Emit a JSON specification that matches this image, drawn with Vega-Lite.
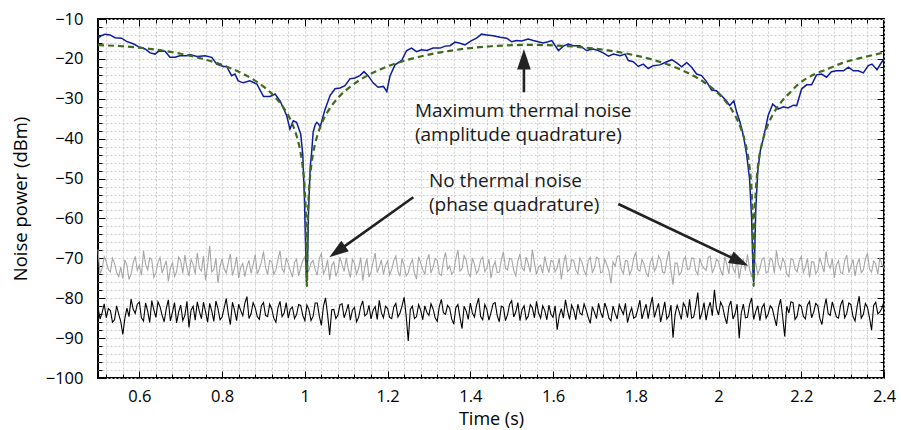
{
  "$schema": "https://vega.github.io/schema/vega-lite/v6.json",
  "width": 786,
  "height": 359,
  "autosize": {"type": "none"},
  "padding": {"left": 98, "top": 19, "right": 17, "bottom": 52},
  "background": "white",
  "config": {
    "view": {"stroke": "#000", "strokeWidth": 2},
    "font": "Open Sans",
    "axis": {
      "domain": false,
      "labelFont": "Open Sans",
      "titleFont": "Open Sans",
      "labelFontSize": 16.5,
      "titleFontSize": 18.5,
      "titleFontWeight": "normal",
      "labelColor": "#000",
      "titleColor": "#000",
      "tickColor": "#000",
      "labelOverlap": false,
      "labelFlush": false
    }
  },
  "datasets": {
    "gray": [
      {"t":0.50,"p":-67.8},{"t":0.51,"p":-72.5},{"t":0.52,"p":-70.9},{"t":0.53,"p":-73.4},{"t":0.54,"p":-71.2},{"t":0.55,"p":-74.6},{"t":0.56,"p":-75.1},{"t":0.57,"p":-71.8},{"t":0.58,"p":-73.9},{"t":0.59,"p":-69.5},
      {"t":0.60,"p":-71.7},{"t":0.61,"p":-68.2},{"t":0.62,"p":-72.9},{"t":0.63,"p":-70.4},{"t":0.64,"p":-73.6},{"t":0.65,"p":-69.8},{"t":0.66,"p":-72.2},{"t":0.67,"p":-75.8},{"t":0.68,"p":-71.0},{"t":0.69,"p":-73.3},
      {"t":0.70,"p":-70.6},{"t":0.71,"p":-69.2},{"t":0.72,"p":-74.4},{"t":0.73,"p":-71.5},{"t":0.74,"p":-68.6},{"t":0.75,"p":-73.2},{"t":0.76,"p":-75.5},{"t":0.77,"p":-66.9},{"t":0.78,"p":-72.8},{"t":0.79,"p":-76.2},
      {"t":0.80,"p":-70.1},{"t":0.81,"p":-73.7},{"t":0.82,"p":-68.9},{"t":0.83,"p":-72.4},{"t":0.84,"p":-74.9},{"t":0.85,"p":-71.3},{"t":0.86,"p":-72.0},{"t":0.87,"p":-73.8},{"t":0.88,"p":-69.0},{"t":0.89,"p":-72.6},
      {"t":0.90,"p":-68.3},{"t":0.91,"p":-74.1},{"t":0.92,"p":-70.8},{"t":0.93,"p":-72.9},{"t":0.94,"p":-68.1},{"t":0.95,"p":-73.5},{"t":0.96,"p":-71.4},{"t":0.97,"p":-74.7},{"t":0.98,"p":-70.2},{"t":0.99,"p":-72.3},
      {"t":1.00,"p":-69.6},{"t":1.01,"p":-73.0},{"t":1.02,"p":-70.5},{"t":1.03,"p":-74.2},{"t":1.04,"p":-68.8},{"t":1.05,"p":-72.7},{"t":1.06,"p":-75.4},{"t":1.07,"p":-70.9},{"t":1.08,"p":-73.1},{"t":1.09,"p":-71.6},
      {"t":1.10,"p":-69.9},{"t":1.11,"p":-74.8},{"t":1.12,"p":-71.2},{"t":1.13,"p":-72.5},{"t":1.14,"p":-75.6},{"t":1.15,"p":-70.0},{"t":1.16,"p":-73.4},{"t":1.17,"p":-68.7},{"t":1.18,"p":-72.1},{"t":1.19,"p":-74.0},
      {"t":1.20,"p":-70.7},{"t":1.21,"p":-72.8},{"t":1.22,"p":-69.4},{"t":1.23,"p":-74.5},{"t":1.24,"p":-71.8},{"t":1.25,"p":-73.6},{"t":1.26,"p":-70.3},{"t":1.27,"p":-75.2},{"t":1.28,"p":-71.1},{"t":1.29,"p":-73.9},
      {"t":1.30,"p":-69.0},{"t":1.31,"p":-72.2},{"t":1.32,"p":-70.6},{"t":1.33,"p":-74.3},{"t":1.34,"p":-68.5},{"t":1.35,"p":-71.9},{"t":1.36,"p":-73.3},{"t":1.37,"p":-67.9},{"t":1.38,"p":-72.6},{"t":1.39,"p":-70.4},
      {"t":1.40,"p":-74.6},{"t":1.41,"p":-71.5},{"t":1.42,"p":-73.0},{"t":1.43,"p":-69.7},{"t":1.44,"p":-72.4},{"t":1.45,"p":-75.0},{"t":1.46,"p":-70.8},{"t":1.47,"p":-73.5},{"t":1.48,"p":-68.4},{"t":1.49,"p":-72.9},
      {"t":1.50,"p":-70.2},{"t":1.51,"p":-74.4},{"t":1.52,"p":-68.9},{"t":1.53,"p":-73.1},{"t":1.54,"p":-71.3},{"t":1.55,"p":-67.8},{"t":1.56,"p":-74.0},{"t":1.57,"p":-71.7},{"t":1.58,"p":-69.5},{"t":1.59,"p":-73.6},
      {"t":1.60,"p":-70.9},{"t":1.61,"p":-72.3},{"t":1.62,"p":-75.3},{"t":1.63,"p":-69.1},{"t":1.64,"p":-72.8},{"t":1.65,"p":-70.5},{"t":1.66,"p":-73.9},{"t":1.67,"p":-71.0},{"t":1.68,"p":-74.2},{"t":1.69,"p":-69.8},
      {"t":1.70,"p":-72.5},{"t":1.71,"p":-70.1},{"t":1.72,"p":-73.4},{"t":1.73,"p":-71.6},{"t":1.74,"p":-76.3},{"t":1.75,"p":-72.0},{"t":1.76,"p":-69.3},{"t":1.77,"p":-73.8},{"t":1.78,"p":-70.7},{"t":1.79,"p":-72.9},
      {"t":1.80,"p":-68.6},{"t":1.81,"p":-73.2},{"t":1.82,"p":-71.4},{"t":1.83,"p":-74.5},{"t":1.84,"p":-69.9},{"t":1.85,"p":-72.1},{"t":1.86,"p":-70.3},{"t":1.87,"p":-73.7},{"t":1.88,"p":-68.2},{"t":1.89,"p":-76.6},
      {"t":1.90,"p":-71.2},{"t":1.91,"p":-73.5},{"t":1.92,"p":-69.6},{"t":1.93,"p":-72.7},{"t":1.94,"p":-70.0},{"t":1.95,"p":-74.1},{"t":1.96,"p":-71.8},{"t":1.97,"p":-73.0},{"t":1.98,"p":-69.4},{"t":1.99,"p":-72.4},
      {"t":2.00,"p":-70.8},{"t":2.01,"p":-74.3},{"t":2.02,"p":-71.5},{"t":2.03,"p":-68.9},{"t":2.04,"p":-73.6},{"t":2.05,"p":-75.1},{"t":2.06,"p":-70.2},{"t":2.07,"p":-69.0},{"t":2.08,"p":-74.7},{"t":2.09,"p":-71.3},
      {"t":2.10,"p":-72.6},{"t":2.11,"p":-69.8},{"t":2.12,"p":-73.3},{"t":2.13,"p":-70.5},{"t":2.14,"p":-68.0},{"t":2.15,"p":-72.8},{"t":2.16,"p":-71.1},{"t":2.17,"p":-74.6},{"t":2.18,"p":-70.3},{"t":2.19,"p":-73.4},
      {"t":2.20,"p":-69.5},{"t":2.21,"p":-72.2},{"t":2.22,"p":-74.8},{"t":2.23,"p":-70.9},{"t":2.24,"p":-73.0},{"t":2.25,"p":-71.7},{"t":2.26,"p":-68.3},{"t":2.27,"p":-72.5},{"t":2.28,"p":-74.9},{"t":2.29,"p":-70.6},
      {"t":2.30,"p":-73.8},{"t":2.31,"p":-69.2},{"t":2.32,"p":-72.0},{"t":2.33,"p":-74.4},{"t":2.34,"p":-70.1},{"t":2.35,"p":-72.9},{"t":2.36,"p":-68.7},{"t":2.37,"p":-73.5},{"t":2.38,"p":-71.4},{"t":2.39,"p":-69.9},
      {"t":2.40,"p":-72.3},
      {"t":0.505,"p":-73.9},{"t":0.515,"p":-69.6},{"t":0.525,"p":-72.8},{"t":0.535,"p":-70.0},{"t":0.545,"p":-73.5},{"t":0.555,"p":-72.2},{"t":0.565,"p":-70.4},{"t":0.575,"p":-75.3},{"t":0.585,"p":-71.1},{"t":0.595,"p":-73.0},
      {"t":0.605,"p":-74.3},{"t":0.615,"p":-71.5},{"t":0.625,"p":-69.9},{"t":0.635,"p":-74.8},{"t":0.645,"p":-71.0},{"t":0.655,"p":-73.7},{"t":0.665,"p":-70.6},{"t":0.675,"p":-72.5},{"t":0.685,"p":-74.6},{"t":0.695,"p":-69.7},
      {"t":0.705,"p":-73.8},{"t":0.715,"p":-72.4},{"t":0.725,"p":-70.3},{"t":0.735,"p":-73.9},{"t":0.745,"p":-72.5},{"t":0.755,"p":-69.4},{"t":0.765,"p":-71.7},{"t":0.775,"p":-73.4},{"t":0.785,"p":-70.0},{"t":0.795,"p":-72.1},
      {"t":0.805,"p":-72.7},{"t":0.815,"p":-71.1},{"t":0.825,"p":-74.3},{"t":0.835,"p":-69.6},{"t":0.845,"p":-72.3},{"t":0.855,"p":-74.6},{"t":0.865,"p":-70.5},{"t":0.875,"p":-71.6},{"t":0.885,"p":-74.0},{"t":0.895,"p":-70.9},
      {"t":0.905,"p":-72.2},{"t":0.915,"p":-70.5},{"t":0.925,"p":-74.0},{"t":0.935,"p":-70.3},{"t":0.945,"p":-72.6},{"t":0.955,"p":-69.9},{"t":0.965,"p":-73.1},{"t":0.975,"p":-71.0},{"t":0.985,"p":-74.4},{"t":0.995,"p":-70.6},
      {"t":1.005,"p":-74.1},{"t":1.015,"p":-71.2},{"t":1.025,"p":-72.9},{"t":1.035,"p":-70.0},{"t":1.045,"p":-73.9},{"t":1.055,"p":-70.4},{"t":1.065,"p":-71.8},{"t":1.075,"p":-74.5},{"t":1.085,"p":-69.7},{"t":1.095,"p":-73.3},
      {"t":1.105,"p":-72.8},{"t":1.115,"p":-70.2},{"t":1.125,"p":-74.0},{"t":1.135,"p":-69.8},{"t":1.145,"p":-72.2},{"t":1.155,"p":-74.7},{"t":1.165,"p":-70.9},{"t":1.175,"p":-73.6},{"t":1.185,"p":-70.4},{"t":1.195,"p":-71.7},
      {"t":1.205,"p":-74.1},{"t":1.215,"p":-70.6},{"t":1.225,"p":-73.2},{"t":1.235,"p":-70.0},{"t":1.245,"p":-74.4},{"t":1.255,"p":-71.5},{"t":1.265,"p":-73.8},{"t":1.275,"p":-69.6},{"t":1.285,"p":-72.9},{"t":1.295,"p":-70.5},
      {"t":1.305,"p":-73.7},{"t":1.315,"p":-70.0},{"t":1.325,"p":-73.9},{"t":1.335,"p":-70.7},{"t":1.345,"p":-72.8},{"t":1.355,"p":-74.0},{"t":1.365,"p":-70.1},{"t":1.375,"p":-73.2},{"t":1.385,"p":-69.3},{"t":1.395,"p":-73.6},
      {"t":1.405,"p":-69.9},{"t":1.415,"p":-73.8},{"t":1.425,"p":-70.4},{"t":1.435,"p":-73.3},{"t":1.445,"p":-70.2},{"t":1.455,"p":-72.1},{"t":1.465,"p":-73.6},{"t":1.475,"p":-70.3},{"t":1.485,"p":-72.5},{"t":1.495,"p":-70.0},
      {"t":1.505,"p":-73.1},{"t":1.515,"p":-70.6},{"t":1.525,"p":-72.4},{"t":1.535,"p":-69.7},{"t":1.545,"p":-73.5},{"t":1.555,"p":-71.2},{"t":1.565,"p":-72.2},{"t":1.575,"p":-73.8},{"t":1.585,"p":-71.9},{"t":1.595,"p":-70.5},
      {"t":1.605,"p":-73.4},{"t":1.615,"p":-70.0},{"t":1.625,"p":-71.5},{"t":1.635,"p":-73.3},{"t":1.645,"p":-70.4},{"t":1.655,"p":-72.9},{"t":1.665,"p":-69.9},{"t":1.675,"p":-73.1},{"t":1.685,"p":-70.6},{"t":1.695,"p":-73.5},
      {"t":1.705,"p":-69.7},{"t":1.715,"p":-73.6},{"t":1.725,"p":-70.2},{"t":1.735,"p":-73.1},{"t":1.745,"p":-70.9},{"t":1.755,"p":-69.6},{"t":1.765,"p":-72.8},{"t":1.775,"p":-70.5},{"t":1.785,"p":-74.0},{"t":1.795,"p":-69.8},
      {"t":1.805,"p":-72.9},{"t":1.815,"p":-70.3},{"t":1.825,"p":-73.6},{"t":1.835,"p":-71.0},{"t":1.845,"p":-73.2},{"t":1.855,"p":-69.4},{"t":1.865,"p":-73.5},{"t":1.875,"p":-70.6},{"t":1.885,"p":-73.1},{"t":1.895,"p":-71.2},
      {"t":1.905,"p":-74.2},{"t":1.915,"p":-70.5},{"t":1.925,"p":-72.8},{"t":1.935,"p":-69.9},{"t":1.945,"p":-73.1},{"t":1.955,"p":-70.0},{"t":1.965,"p":-72.5},{"t":1.975,"p":-69.8},{"t":1.985,"p":-73.7},{"t":1.995,"p":-70.2},
      {"t":2.005,"p":-73.0},{"t":2.015,"p":-69.6},{"t":2.025,"p":-73.9},{"t":2.035,"p":-72.5},{"t":2.045,"p":-70.1},{"t":2.055,"p":-72.0},{"t":2.065,"p":-73.1},{"t":2.075,"p":-72.7},{"t":2.085,"p":-70.4},{"t":2.095,"p":-74.0},
      {"t":2.105,"p":-70.3},{"t":2.115,"p":-73.7},{"t":2.125,"p":-69.9},{"t":2.135,"p":-73.8},{"t":2.145,"p":-71.6},{"t":2.155,"p":-70.0},{"t":2.165,"p":-73.9},{"t":2.175,"p":-70.1},{"t":2.185,"p":-72.7},{"t":2.195,"p":-70.8},
      {"t":2.205,"p":-73.5},{"t":2.215,"p":-70.0},{"t":2.225,"p":-70.9},{"t":2.235,"p":-73.8},{"t":2.245,"p":-69.8},{"t":2.255,"p":-73.5},{"t":2.265,"p":-71.4},{"t":2.275,"p":-70.1},{"t":2.285,"p":-71.7},{"t":2.295,"p":-73.6},
      {"t":2.305,"p":-70.5},{"t":2.315,"p":-73.6},{"t":2.325,"p":-70.3},{"t":2.335,"p":-71.5},{"t":2.345,"p":-73.6},{"t":2.355,"p":-70.2},{"t":2.365,"p":-72.6},{"t":2.375,"p":-70.7},{"t":2.385,"p":-74.0},{"t":2.395,"p":-71.6}
    ],
    "black": [
      {"t":0.50,"p":-82.3},{"t":0.51,"p":-83.6},{"t":0.52,"p":-84.9},{"t":0.53,"p":-83.1},{"t":0.54,"p":-85.4},{"t":0.55,"p":-84.0},{"t":0.56,"p":-89.1},{"t":0.57,"p":-82.5},{"t":0.58,"p":-80.2},{"t":0.59,"p":-83.8},
      {"t":0.60,"p":-81.0},{"t":0.61,"p":-85.7},{"t":0.62,"p":-83.2},{"t":0.63,"p":-80.6},{"t":0.64,"p":-84.8},{"t":0.65,"p":-82.1},{"t":0.66,"p":-85.9},{"t":0.67,"p":-80.4},{"t":0.68,"p":-83.5},{"t":0.69,"p":-86.2},
      {"t":0.70,"p":-81.7},{"t":0.71,"p":-84.3},{"t":0.72,"p":-87.3},{"t":0.73,"p":-82.0},{"t":0.74,"p":-80.9},{"t":0.75,"p":-85.1},{"t":0.76,"p":-83.4},{"t":0.77,"p":-81.3},{"t":0.78,"p":-85.8},{"t":0.79,"p":-82.6},
      {"t":0.80,"p":-84.7},{"t":0.81,"p":-80.1},{"t":0.82,"p":-86.6},{"t":0.83,"p":-83.0},{"t":0.84,"p":-81.5},{"t":0.85,"p":-84.4},{"t":0.86,"p":-79.6},{"t":0.87,"p":-83.9},{"t":0.88,"p":-82.4},{"t":0.89,"p":-85.3},
      {"t":0.90,"p":-81.1},{"t":0.91,"p":-84.6},{"t":0.92,"p":-82.7},{"t":0.93,"p":-86.0},{"t":0.94,"p":-80.8},{"t":0.95,"p":-83.7},{"t":0.96,"p":-85.0},{"t":0.97,"p":-82.2},{"t":0.98,"p":-84.1},{"t":0.99,"p":-81.8},
      {"t":1.00,"p":-85.6},{"t":1.01,"p":-82.9},{"t":1.02,"p":-84.5},{"t":1.03,"p":-81.2},{"t":1.04,"p":-86.8},{"t":1.05,"p":-79.9},{"t":1.06,"p":-89.2},{"t":1.07,"p":-82.8},{"t":1.08,"p":-84.2},{"t":1.09,"p":-81.4},
      {"t":1.10,"p":-83.3},{"t":1.11,"p":-85.5},{"t":1.12,"p":-82.3},{"t":1.13,"p":-84.8},{"t":1.14,"p":-80.7},{"t":1.15,"p":-83.9},{"t":1.16,"p":-85.2},{"t":1.17,"p":-82.1},{"t":1.18,"p":-80.5},{"t":1.19,"p":-84.9},
      {"t":1.20,"p":-82.6},{"t":1.21,"p":-85.1},{"t":1.22,"p":-81.3},{"t":1.23,"p":-83.7},{"t":1.24,"p":-79.8},{"t":1.25,"p":-90.7},{"t":1.26,"p":-82.0},{"t":1.27,"p":-84.6},{"t":1.28,"p":-83.0},{"t":1.29,"p":-81.9},
      {"t":1.30,"p":-84.3},{"t":1.31,"p":-82.7},{"t":1.32,"p":-85.8},{"t":1.33,"p":-80.3},{"t":1.34,"p":-84.0},{"t":1.35,"p":-82.5},{"t":1.36,"p":-86.5},{"t":1.37,"p":-81.6},{"t":1.38,"p":-87.6},{"t":1.39,"p":-83.2},
      {"t":1.40,"p":-81.2},{"t":1.41,"p":-84.7},{"t":1.42,"p":-80.0},{"t":1.43,"p":-85.4},{"t":1.44,"p":-82.8},{"t":1.45,"p":-83.6},{"t":1.46,"p":-81.1},{"t":1.47,"p":-85.9},{"t":1.48,"p":-82.3},{"t":1.49,"p":-84.1},
      {"t":1.50,"p":-80.6},{"t":1.51,"p":-83.4},{"t":1.52,"p":-85.6},{"t":1.53,"p":-81.9},{"t":1.54,"p":-84.5},{"t":1.55,"p":-82.4},{"t":1.56,"p":-80.8},{"t":1.57,"p":-85.0},{"t":1.58,"p":-83.1},{"t":1.59,"p":-81.7},
      {"t":1.60,"p":-84.8},{"t":1.61,"p":-87.9},{"t":1.62,"p":-82.6},{"t":1.63,"p":-80.4},{"t":1.64,"p":-85.3},{"t":1.65,"p":-83.0},{"t":1.66,"p":-81.5},{"t":1.67,"p":-84.2},{"t":1.68,"p":-82.9},{"t":1.69,"p":-86.3},
      {"t":1.70,"p":-83.5},{"t":1.71,"p":-81.3},{"t":1.72,"p":-84.9},{"t":1.73,"p":-82.7},{"t":1.74,"p":-85.7},{"t":1.75,"p":-83.8},{"t":1.76,"p":-81.6},{"t":1.77,"p":-84.0},{"t":1.78,"p":-86.1},{"t":1.79,"p":-82.4},
      {"t":1.80,"p":-84.6},{"t":1.81,"p":-80.5},{"t":1.82,"p":-83.2},{"t":1.83,"p":-85.1},{"t":1.84,"p":-79.7},{"t":1.85,"p":-82.9},{"t":1.86,"p":-86.0},{"t":1.87,"p":-80.9},{"t":1.88,"p":-84.4},{"t":1.89,"p":-89.9},
      {"t":1.90,"p":-81.8},{"t":1.91,"p":-85.3},{"t":1.92,"p":-82.2},{"t":1.93,"p":-80.3},{"t":1.94,"p":-84.7},{"t":1.95,"p":-78.6},{"t":1.96,"p":-83.6},{"t":1.97,"p":-85.5},{"t":1.98,"p":-81.0},{"t":1.99,"p":-77.9},
      {"t":2.00,"p":-84.2},{"t":2.01,"p":-82.1},{"t":2.02,"p":-86.4},{"t":2.03,"p":-80.7},{"t":2.04,"p":-83.9},{"t":2.05,"p":-90.0},{"t":2.06,"p":-81.5},{"t":2.07,"p":-84.8},{"t":2.08,"p":-79.9},{"t":2.09,"p":-83.3},
      {"t":2.10,"p":-85.6},{"t":2.11,"p":-81.4},{"t":2.12,"p":-84.0},{"t":2.13,"p":-82.6},{"t":2.14,"p":-86.9},{"t":2.15,"p":-80.2},{"t":2.16,"p":-89.6},{"t":2.17,"p":-83.7},{"t":2.18,"p":-81.1},{"t":2.19,"p":-84.5},
      {"t":2.20,"p":-82.0},{"t":2.21,"p":-85.2},{"t":2.22,"p":-80.8},{"t":2.23,"p":-83.5},{"t":2.24,"p":-81.9},{"t":2.25,"p":-86.6},{"t":2.26,"p":-80.1},{"t":2.27,"p":-84.3},{"t":2.28,"p":-82.8},{"t":2.29,"p":-85.0},
      {"t":2.30,"p":-80.4},{"t":2.31,"p":-83.8},{"t":2.32,"p":-81.6},{"t":2.33,"p":-85.7},{"t":2.34,"p":-79.5},{"t":2.35,"p":-84.1},{"t":2.36,"p":-82.3},{"t":2.37,"p":-88.0},{"t":2.38,"p":-81.0},{"t":2.39,"p":-83.4},
      {"t":2.40,"p":-80.8},
      {"t":0.505,"p":-85.2},{"t":0.515,"p":-81.4},{"t":0.525,"p":-82.6},{"t":0.535,"p":-86.0},{"t":0.545,"p":-81.9},{"t":0.555,"p":-85.8},{"t":0.565,"p":-85.0},{"t":0.575,"p":-84.6},{"t":0.585,"p":-82.7},{"t":0.595,"p":-81.5},
      {"t":0.605,"p":-84.9},{"t":0.615,"p":-81.2},{"t":0.625,"p":-86.1},{"t":0.635,"p":-82.9},{"t":0.645,"p":-80.9},{"t":0.655,"p":-84.3},{"t":0.665,"p":-82.6},{"t":0.675,"p":-85.7},{"t":0.685,"p":-81.1},{"t":0.695,"p":-83.4},
      {"t":0.705,"p":-85.6},{"t":0.715,"p":-80.8},{"t":0.725,"p":-83.0},{"t":0.735,"p":-85.5},{"t":0.745,"p":-83.3},{"t":0.755,"p":-81.0},{"t":0.765,"p":-86.0},{"t":0.775,"p":-83.2},{"t":0.785,"p":-80.7},{"t":0.795,"p":-85.4},
      {"t":0.805,"p":-82.4},{"t":0.815,"p":-83.9},{"t":0.825,"p":-81.0},{"t":0.835,"p":-85.6},{"t":0.845,"p":-83.1},{"t":0.855,"p":-81.2},{"t":0.865,"p":-85.1},{"t":0.875,"p":-81.1},{"t":0.885,"p":-84.6},{"t":0.895,"p":-81.9},
      {"t":0.905,"p":-84.3},{"t":0.915,"p":-81.5},{"t":0.925,"p":-85.0},{"t":0.935,"p":-82.4},{"t":0.945,"p":-84.6},{"t":0.955,"p":-81.1},{"t":0.965,"p":-82.7},{"t":0.975,"p":-85.1},{"t":0.985,"p":-81.6},{"t":0.995,"p":-84.3},
      {"t":1.005,"p":-81.7},{"t":1.015,"p":-85.6},{"t":1.025,"p":-81.2},{"t":1.035,"p":-84.5},{"t":1.045,"p":-82.0},{"t":1.055,"p":-84.1},{"t":1.065,"p":-82.9},{"t":1.075,"p":-85.1},{"t":1.085,"p":-81.6},{"t":1.095,"p":-84.9},
      {"t":1.105,"p":-81.5},{"t":1.115,"p":-83.0},{"t":1.125,"p":-85.9},{"t":1.135,"p":-82.1},{"t":1.145,"p":-84.4},{"t":1.155,"p":-81.8},{"t":1.165,"p":-83.0},{"t":1.175,"p":-85.3},{"t":1.185,"p":-83.6},{"t":1.195,"p":-82.0},
      {"t":1.205,"p":-84.8},{"t":1.215,"p":-82.2},{"t":1.225,"p":-84.7},{"t":1.235,"p":-81.9},{"t":1.245,"p":-84.5},{"t":1.255,"p":-82.8},{"t":1.265,"p":-85.1},{"t":1.275,"p":-81.6},{"t":1.285,"p":-85.4},{"t":1.295,"p":-83.5},
      {"t":1.305,"p":-81.4},{"t":1.315,"p":-84.9},{"t":1.325,"p":-82.1},{"t":1.335,"p":-83.6},{"t":1.345,"p":-81.8},{"t":1.355,"p":-85.2},{"t":1.365,"p":-82.4},{"t":1.375,"p":-84.8},{"t":1.385,"p":-82.0},{"t":1.395,"p":-85.3},
      {"t":1.405,"p":-83.7},{"t":1.415,"p":-81.8},{"t":1.425,"p":-84.6},{"t":1.435,"p":-81.6},{"t":1.445,"p":-85.5},{"t":1.455,"p":-81.4},{"t":1.465,"p":-84.3},{"t":1.475,"p":-82.0},{"t":1.485,"p":-85.6},{"t":1.495,"p":-81.5},
      {"t":1.505,"p":-84.7},{"t":1.515,"p":-81.1},{"t":1.525,"p":-82.9},{"t":1.535,"p":-85.3},{"t":1.545,"p":-81.6},{"t":1.555,"p":-84.9},{"t":1.565,"p":-83.7},{"t":1.575,"p":-81.9},{"t":1.585,"p":-85.4},{"t":1.595,"p":-84.0},
      {"t":1.605,"p":-81.9},{"t":1.615,"p":-84.4},{"t":1.625,"p":-85.0},{"t":1.635,"p":-83.2},{"t":1.645,"p":-81.7},{"t":1.655,"p":-85.4},{"t":1.665,"p":-83.7},{"t":1.675,"p":-81.4},{"t":1.685,"p":-84.8},{"t":1.695,"p":-82.1},
      {"t":1.705,"p":-85.1},{"t":1.715,"p":-83.5},{"t":1.725,"p":-81.2},{"t":1.735,"p":-85.0},{"t":1.745,"p":-82.0},{"t":1.755,"p":-85.2},{"t":1.765,"p":-82.9},{"t":1.775,"p":-81.3},{"t":1.785,"p":-83.9},{"t":1.795,"p":-85.0},
      {"t":1.805,"p":-82.7},{"t":1.815,"p":-85.2},{"t":1.825,"p":-81.5},{"t":1.835,"p":-82.0},{"t":1.845,"p":-84.8},{"t":1.855,"p":-81.3},{"t":1.865,"p":-83.6},{"t":1.875,"p":-85.2},{"t":1.885,"p":-81.7},{"t":1.895,"p":-84.1},
      {"t":1.905,"p":-83.4},{"t":1.915,"p":-81.2},{"t":1.925,"p":-84.9},{"t":1.935,"p":-85.0},{"t":1.945,"p":-81.9},{"t":1.955,"p":-85.3},{"t":1.965,"p":-81.1},{"t":1.975,"p":-82.6},{"t":1.985,"p":-84.4},{"t":1.995,"p":-82.5},
      {"t":2.005,"p":-81.0},{"t":2.015,"p":-84.6},{"t":2.025,"p":-82.1},{"t":2.035,"p":-85.2},{"t":2.045,"p":-81.5},{"t":2.055,"p":-83.7},{"t":2.065,"p":-84.9},{"t":2.075,"p":-81.6},{"t":2.085,"p":-85.3},{"t":2.095,"p":-81.9},
      {"t":2.105,"p":-82.4},{"t":2.115,"p":-85.0},{"t":2.125,"p":-81.9},{"t":2.135,"p":-84.8},{"t":2.145,"p":-82.3},{"t":2.155,"p":-84.6},{"t":2.165,"p":-82.0},{"t":2.175,"p":-80.9},{"t":2.185,"p":-85.3},{"t":2.195,"p":-81.6},
      {"t":2.205,"p":-84.5},{"t":2.215,"p":-81.7},{"t":2.225,"p":-84.9},{"t":2.235,"p":-81.3},{"t":2.245,"p":-85.1},{"t":2.255,"p":-82.7},{"t":2.265,"p":-83.8},{"t":2.275,"p":-80.9},{"t":2.285,"p":-84.7},{"t":2.295,"p":-81.8},
      {"t":2.305,"p":-84.9},{"t":2.315,"p":-81.2},{"t":2.325,"p":-84.6},{"t":2.335,"p":-82.1},{"t":2.345,"p":-85.0},{"t":2.355,"p":-81.3},{"t":2.365,"p":-84.9},{"t":2.375,"p":-81.8},{"t":2.385,"p":-83.9},{"t":2.395,"p":-82.5}
    ],
    "blue": [
      {"t":0.500,"p":-14.8},{"t":0.508,"p":-14.2},{"t":0.517,"p":-13.8},{"t":0.529,"p":-14.0},{"t":0.541,"p":-14.7},{"t":0.557,"p":-14.8},{"t":0.569,"p":-15.6},{"t":0.585,"p":-16.2},{"t":0.601,"p":-17.1},{"t":0.614,"p":-17.5},
      {"t":0.626,"p":-18.5},{"t":0.638,"p":-18.8},{"t":0.646,"p":-18.1},{"t":0.662,"p":-18.1},{"t":0.674,"p":-19.6},{"t":0.686,"p":-19.6},{"t":0.698,"p":-19.2},{"t":0.714,"p":-19.2},{"t":0.722,"p":-18.9},{"t":0.739,"p":-19.4},
      {"t":0.759,"p":-19.2},{"t":0.775,"p":-19.6},{"t":0.787,"p":-21.3},{"t":0.803,"p":-21.9},{"t":0.811,"p":-21.9},{"t":0.823,"p":-24.2},{"t":0.831,"p":-23.8},{"t":0.839,"p":-25.5},{"t":0.851,"p":-26.0},{"t":0.867,"p":-25.5},
      {"t":0.884,"p":-26.3},{"t":0.900,"p":-29.4},{"t":0.916,"p":-29.4},{"t":0.928,"p":-28.8},{"t":0.940,"p":-30.5},{"t":0.956,"p":-34.2},{"t":0.964,"p":-37.6},{"t":0.972,"p":-35.5},{"t":0.980,"p":-35.9},{"t":0.990,"p":-38.8},
      {"t":0.995,"p":-44},{"t":0.999,"p":-55},{"t":1.002,"p":-68},{"t":1.004,"p":-76},{"t":1.006,"p":-73},{"t":1.009,"p":-58},{"t":1.013,"p":-47},{"t":1.0165,"p":-43.4},{"t":1.020,"p":-38.4},{"t":1.025,"p":-36.5},
      {"t":1.029,"p":-35.9},{"t":1.033,"p":-36.3},{"t":1.037,"p":-37.1},{"t":1.043,"p":-34.8},{"t":1.049,"p":-32.6},{"t":1.061,"p":-29.2},{"t":1.073,"p":-27.5},{"t":1.085,"p":-27.3},{"t":1.097,"p":-26.7},{"t":1.109,"p":-25.0},
      {"t":1.121,"p":-24.8},{"t":1.133,"p":-24.2},{"t":1.143,"p":-23.2},{"t":1.153,"p":-24.2},{"t":1.165,"p":-26.0},{"t":1.177,"p":-27.1},{"t":1.190,"p":-26.9},{"t":1.198,"p":-28.2},{"t":1.206,"p":-24.2},{"t":1.218,"p":-21.5},
      {"t":1.234,"p":-20.4},{"t":1.246,"p":-17.9},{"t":1.258,"p":-17.3},{"t":1.270,"p":-18.2},{"t":1.282,"p":-17.7},{"t":1.295,"p":-17.9},{"t":1.310,"p":-17.3},{"t":1.327,"p":-17.3},{"t":1.339,"p":-16.8},{"t":1.351,"p":-16.7},
      {"t":1.363,"p":-15.8},{"t":1.375,"p":-16.1},{"t":1.387,"p":-16.5},{"t":1.403,"p":-15.4},{"t":1.415,"p":-14.8},{"t":1.427,"p":-13.8},{"t":1.440,"p":-14.0},{"t":1.455,"p":-14.2},{"t":1.472,"p":-14.6},{"t":1.488,"p":-14.8},
      {"t":1.500,"p":-15.7},{"t":1.512,"p":-15.4},{"t":1.524,"p":-15.5},{"t":1.540,"p":-15.0},{"t":1.552,"p":-15.4},{"t":1.564,"p":-15.7},{"t":1.576,"p":-16.0},{"t":1.588,"p":-15.7},{"t":1.597,"p":-15.4},{"t":1.613,"p":-17.9},
      {"t":1.625,"p":-16.8},{"t":1.637,"p":-16.3},{"t":1.649,"p":-16.7},{"t":1.665,"p":-16.7},{"t":1.681,"p":-17.9},{"t":1.697,"p":-17.5},{"t":1.709,"p":-17.9},{"t":1.721,"p":-18.5},{"t":1.734,"p":-19.3},{"t":1.746,"p":-18.8},
      {"t":1.762,"p":-19.2},{"t":1.774,"p":-18.8},{"t":1.782,"p":-20.4},{"t":1.794,"p":-20.7},{"t":1.806,"p":-21.9},{"t":1.818,"p":-21.3},{"t":1.830,"p":-22.4},{"t":1.842,"p":-21.7},{"t":1.858,"p":-21.5},{"t":1.871,"p":-20.9},
      {"t":1.887,"p":-20.2},{"t":1.899,"p":-21.0},{"t":1.911,"p":-22.0},{"t":1.923,"p":-20.9},{"t":1.935,"p":-22.1},{"t":1.947,"p":-23.8},{"t":1.959,"p":-24.2},{"t":1.971,"p":-25.7},{"t":1.983,"p":-27.8},{"t":1.995,"p":-28.0},
      {"t":2.007,"p":-29.2},{"t":2.019,"p":-30.5},{"t":2.027,"p":-31.7},{"t":2.037,"p":-30.5},{"t":2.044,"p":-33.4},{"t":2.052,"p":-35.9},{"t":2.060,"p":-39.2},{"t":2.068,"p":-44},{"t":2.075,"p":-50},{"t":2.080,"p":-60},
      {"t":2.083,"p":-72},{"t":2.085,"p":-76},{"t":2.087,"p":-70},{"t":2.090,"p":-58},{"t":2.095,"p":-48},{"t":2.101,"p":-43},{"t":2.108,"p":-40.1},{"t":2.120,"p":-34.2},{"t":2.131,"p":-31.3},{"t":2.144,"p":-32.6},
      {"t":2.157,"p":-32.0},{"t":2.168,"p":-32.3},{"t":2.181,"p":-31.6},{"t":2.189,"p":-31.7},{"t":2.201,"p":-27.5},{"t":2.213,"p":-26.5},{"t":2.225,"p":-26.5},{"t":2.237,"p":-24.0},{"t":2.249,"p":-23.8},{"t":2.261,"p":-24.6},
      {"t":2.273,"p":-23.2},{"t":2.285,"p":-23.0},{"t":2.302,"p":-23.0},{"t":2.314,"p":-22.1},{"t":2.326,"p":-23.0},{"t":2.338,"p":-23.0},{"t":2.350,"p":-23.5},{"t":2.362,"p":-21.7},{"t":2.371,"p":-21.3},{"t":2.383,"p":-22.7},
      {"t":2.400,"p":-19.9}
    ],
    "fit": [
      {"t":0.50,"p":-16.55},{"t":0.55,"p":-16.77},{"t":0.60,"p":-17.19},{"t":0.65,"p":-17.82},{"t":0.70,"p":-18.71},{"t":0.75,"p":-19.91},{"t":0.80,"p":-21.51},{"t":0.85,"p":-23.71},{"t":0.90,"p":-26.94},{"t":0.93,"p":-29.79},
      {"t":0.95,"p":-32.46},{"t":0.97,"p":-36.36},{"t":0.98,"p":-39.27},{"t":0.99,"p":-43.7},{"t":0.995,"p":-47.2},{"t":1.000,"p":-53.2},{"t":1.003,"p":-61.1},{"t":1.005,"p":-76.96},{"t":1.007,"p":-61.1},{"t":1.010,"p":-53.2},
      {"t":1.015,"p":-47.2},{"t":1.02,"p":-43.7},{"t":1.03,"p":-39.27},{"t":1.04,"p":-36.36},{"t":1.06,"p":-32.46},{"t":1.08,"p":-29.79},{"t":1.11,"p":-26.94},{"t":1.15,"p":-24.26},{"t":1.20,"p":-21.9},{"t":1.25,"p":-20.19},
      {"t":1.30,"p":-18.92},{"t":1.35,"p":-17.98},{"t":1.40,"p":-17.29},{"t":1.45,"p":-16.83},{"t":1.50,"p":-16.57},{"t":1.545,"p":-16.5},{"t":1.60,"p":-16.61},{"t":1.65,"p":-16.91},{"t":1.70,"p":-17.41},{"t":1.75,"p":-18.14},
      {"t":1.80,"p":-19.15},{"t":1.85,"p":-20.49},{"t":1.90,"p":-22.31},{"t":1.95,"p":-24.84},{"t":1.98,"p":-26.94},{"t":2.00,"p":-28.72},{"t":2.02,"p":-31.02},{"t":2.04,"p":-34.19},{"t":2.055,"p":-37.69},{"t":2.065,"p":-41.21},
      {"t":2.075,"p":-47.2},{"t":2.080,"p":-53.2},{"t":2.083,"p":-61.1},{"t":2.085,"p":-76.96},{"t":2.087,"p":-61.1},{"t":2.090,"p":-53.2},{"t":2.095,"p":-47.2},{"t":2.105,"p":-41.21},{"t":2.115,"p":-37.69},{"t":2.13,"p":-34.19},
      {"t":2.15,"p":-31.02},{"t":2.173,"p":-28.4},{"t":2.19,"p":-26.6},{"t":2.229,"p":-24.0},{"t":2.26,"p":-22.7},{"t":2.30,"p":-21.0},{"t":2.35,"p":-19.6},{"t":2.40,"p":-18.4}
    ],
    "labels": [
      {"t":1.266,"p":-34.64,"label":"Maximum thermal noise"},
      {"t":1.266,"p":-40.5,"label":"(amplitude quadrature)"},
      {"t":1.300,"p":-52.03,"label":"No thermal noise"},
      {"t":1.300,"p":-58.05,"label":"(phase quadrature)"}
    ],
    "shafts": [
      {"t":1.5296,"p":-28.37,"t2":1.5296,"p2":-20.03},
      {"t":1.2622,"p":-54.69,"t2":1.0787,"p2":-68.27},
      {"t":1.7577,"p":-56.37,"t2":2.0501,"p2":-70.75}
    ]
  },
  "layer": [
    {
      "data": {"name": "gray"},
      "mark": {"type": "line", "color": "#a6a6a6", "strokeWidth": 1.1},
      "encoding": {
        "x": {
          "field": "t", "type": "quantitative",
          "scale": {"domain": [0.5, 2.4], "nice": false, "zero": false},
          "axis": {
            "orient": "bottom",
            "title": "Time (s)",
            "titleFontSize": 18,
            "values": [0.52,0.56,0.6,0.64,0.68,0.72,0.76,0.8,0.84,0.88,0.92,0.96,1,1.04,1.08,1.12,1.16,1.2,1.24,1.28,1.32,1.36,1.4,1.44,1.48,1.52,1.56,1.6,1.64,1.68,1.72,1.76,1.8,1.84,1.88,1.92,1.96,2,2.04,2.08,2.12,2.16,2.2,2.24,2.28,2.32,2.36,2.4],
            "labelExpr": "abs(datum.value*5 - round(datum.value*5)) < 0.001 ? format(datum.value, '~g') : ''",
            "grid": true,
            "gridDash": [2, 2],
            "gridColor": "#cccccc",
            "gridWidth": 1,
            "tickSize": {"condition": {"test": "abs(datum.value*5 - round(datum.value*5)) < 0.001", "value": -7}, "value": -4},
            "tickWidth": 1,
            "labelPadding": 17,
            "titlePadding": 2.5
          }
        },
        "y": {
          "field": "p", "type": "quantitative",
          "scale": {"domain": [-100, -10], "nice": false, "zero": false},
          "axis": {
            "orient": "left",
            "title": "Noise power (dBm)",
            "values": [-100,-98,-96,-94,-92,-90,-88,-86,-84,-82,-80,-78,-76,-74,-72,-70,-68,-66,-64,-62,-60,-58,-56,-54,-52,-50,-48,-46,-44,-42,-40,-38,-36,-34,-32,-30,-28,-26,-24,-22,-20,-18,-16,-14,-12,-10],
            "labelExpr": "datum.value % 10 == 0 ? format(datum.value, 'd') : ''",
            "grid": true,
            "gridDash": [2, 2],
            "gridColor": "#cccccc",
            "gridWidth": 1,
            "tickSize": {"condition": {"test": "datum.value % 10 == 0", "value": -7}, "value": -4},
            "tickWidth": 1,
            "labelPadding": 22,
            "titlePadding": 15
          }
        }
      }
    },
    {
      "data": {"name": "black"},
      "mark": {"type": "line", "color": "#000000", "strokeWidth": 1.1},
      "encoding": {
        "x": {
          "field": "t", "type": "quantitative",
          "scale": {"domain": [0.5, 2.4], "nice": false, "zero": false},
          "axis": {
            "orient": "top", "title": null, "labels": false, "grid": false,
            "values": [0.52,0.56,0.6,0.64,0.68,0.72,0.76,0.8,0.84,0.88,0.92,0.96,1,1.04,1.08,1.12,1.16,1.2,1.24,1.28,1.32,1.36,1.4,1.44,1.48,1.52,1.56,1.6,1.64,1.68,1.72,1.76,1.8,1.84,1.88,1.92,1.96,2,2.04,2.08,2.12,2.16,2.2,2.24,2.28,2.32,2.36],
            "tickSize": {"condition": {"test": "abs(datum.value*5 - round(datum.value*5)) < 0.001", "value": -7}, "value": -4},
            "tickWidth": 1
          }
        },
        "y": {
          "field": "p", "type": "quantitative",
          "scale": {"domain": [-100, -10], "nice": false, "zero": false},
          "axis": {
            "orient": "right", "title": null, "labels": false, "grid": false,
            "values": [-98,-96,-94,-92,-90,-88,-86,-84,-82,-80,-78,-76,-74,-72,-70,-68,-66,-64,-62,-60,-58,-56,-54,-52,-50,-48,-46,-44,-42,-40,-38,-36,-34,-32,-30,-28,-26,-24,-22,-20,-18,-16,-14,-12],
            "tickSize": {"condition": {"test": "datum.value % 10 == 0", "value": -7}, "value": -4},
            "tickWidth": 1
          }
        }
      }
    },
    {
      "data": {"name": "blue"},
      "mark": {"type": "line", "color": "#0d1c9e", "strokeWidth": 1.5},
      "encoding": {
        "x": {"field": "t", "type": "quantitative", "axis": null},
        "y": {"field": "p", "type": "quantitative", "axis": null}
      }
    },
    {
      "data": {"name": "fit"},
      "mark": {"type": "line", "color": "#3f6b1f", "strokeWidth": 2.2, "strokeDash": [6, 4], "interpolate": "monotone"},
      "encoding": {
        "x": {"field": "t", "type": "quantitative", "axis": null},
        "y": {"field": "p", "type": "quantitative", "axis": null}
      }
    },
    {
      "data": {"name": "shafts"},
      "mark": {"type": "rule", "color": "#222222", "strokeWidth": 2.6},
      "encoding": {
        "x": {"field": "t", "type": "quantitative", "axis": null},
        "y": {"field": "p", "type": "quantitative", "axis": null},
        "x2": {"field": "t2"},
        "y2": {"field": "p2"}
      }
    },
    {
      "data": {"values": [{"t": 1.5296, "p": -17.52}]},
      "mark": {"type": "point", "shape": "M0,0 L0.33,1 L-0.33,1 Z", "size": 1700, "filled": true, "color": "#222222", "opacity": 1, "angle": 0},
      "encoding": {
        "x": {"field": "t", "type": "quantitative", "axis": null},
        "y": {"field": "p", "type": "quantitative", "axis": null}
      }
    },
    {
      "data": {"values": [{"t": 1.0591, "p": -69.72}]},
      "mark": {"type": "point", "shape": "M0,0 L0.33,1 L-0.33,1 Z", "size": 1500, "filled": true, "color": "#222222", "opacity": 1, "angle": 234.5},
      "encoding": {
        "x": {"field": "t", "type": "quantitative", "axis": null},
        "y": {"field": "p", "type": "quantitative", "axis": null}
      }
    },
    {
      "data": {"values": [{"t": 2.0719, "p": -71.83}]},
      "mark": {"type": "point", "shape": "M0,0 L0.33,1 L-0.33,1 Z", "size": 1500, "filled": true, "color": "#222222", "opacity": 1, "angle": 115.4},
      "encoding": {
        "x": {"field": "t", "type": "quantitative", "axis": null},
        "y": {"field": "p", "type": "quantitative", "axis": null}
      }
    },
    {
      "data": {"name": "labels"},
      "mark": {"type": "text", "align": "left", "baseline": "alphabetic", "font": "Open Sans", "fontSize": 19, "color": "#1a1a1a"},
      "encoding": {
        "x": {"field": "t", "type": "quantitative", "axis": null},
        "y": {"field": "p", "type": "quantitative", "axis": null},
        "text": {"field": "label"}
      }
    }
  ],
  "resolve": {"axis": {"x": "independent", "y": "independent"}}
}
